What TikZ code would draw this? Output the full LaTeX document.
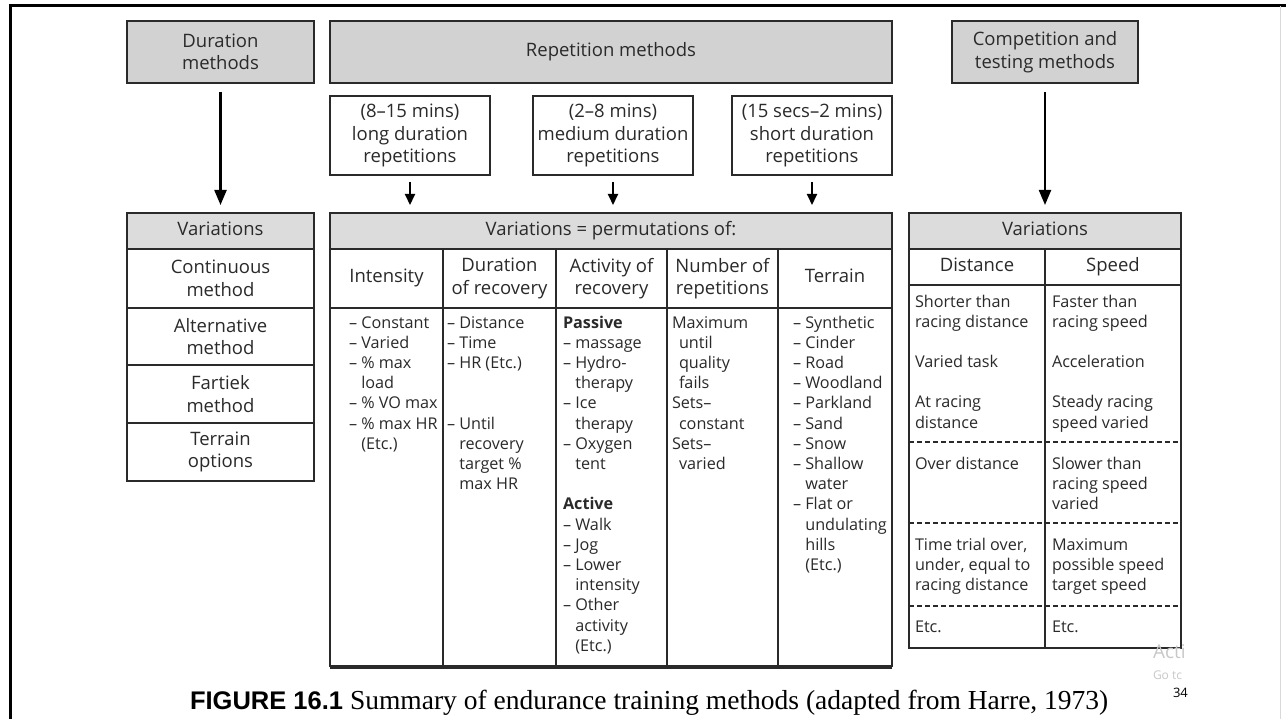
\documentclass[tikz,border=0pt]{standalone}
\usepackage{fontspec}
\setmainfont{Open Sans}
\newfontfamily\capsans{Liberation Sans}
\newfontfamily\capserif{Liberation Serif}
\usetikzlibrary{arrows.meta}
\definecolor{boxgray}{HTML}{D2D2D2}
\definecolor{hdgray}{HTML}{DCDCDC}
\definecolor{ink}{HTML}{2A2A2A}
\definecolor{wm}{HTML}{C8C8C8}
\newcommand\fst{\rule{0pt}{13pt}}
\newcommand\ind{\phantom{– }}
\begin{document}
\begin{tikzpicture}[x=1pt,y=-1pt,
  every node/.style={inner sep=0pt, outer sep=0pt, text=ink},
  hdfont/.style={font=\fontsize{18.5}{22.5}\selectfont},
  bdfont/.style={font=\fontsize{16.2}{20.2}\selectfont},
  box/.style={draw=ink, line width=1.8pt, align=center, hdfont},
  gbox/.style={box, fill=boxgray},
  hbox/.style={box, fill=hdgray},
  wbox/.style={box, fill=white},
  one/.style={text height=13.5pt, text depth=4.5pt},
  body/.style={anchor=north west, align=left, bdfont},
  bigarrow/.style={-{Triangle[length=15pt,width=12pt]}, line width=2.2pt, draw=black},
  smallarrow/.style={-{Triangle[length=11pt,width=10pt]}, line width=2pt, draw=black},
  sep/.style={draw=ink, line width=1.8pt, dash pattern=on 5pt off 3pt},
]
\useasboundingbox (0,0) rectangle (1286,719);
\fill[white] (0,0) rectangle (1286,719);
% frame
\draw[line width=3pt, black] (10,719) -- (10,6) -- (1286,6);
\draw[line width=1pt, black!15] (1280,6) -- (1280,719);

% top boxes
\node[gbox, minimum width=187, minimum height=62] (dur) at (220.5,52) {Duration\\methods};
\node[gbox, one, minimum width=562, minimum height=62] (rep) at (611,52) {Repetition methods};
\node[gbox, minimum width=186, minimum height=62] (comp) at (1045,52) {Competition and\\testing methods};

\node[wbox, minimum width=160, minimum height=79] (long) at (410,135.5) {(8–15 mins)\\long duration\\repetitions};
\node[wbox, minimum width=160, minimum height=79] (med) at (613,135.5) {(2–8 mins)\\medium duration\\repetitions};
\node[wbox, minimum width=160, minimum height=79] (short) at (812,135.5) {(15 secs–2 mins)\\short duration\\repetitions};

% left table
\node[hbox, one, minimum width=187, minimum height=36] (lhead) at (220.5,231) {Variations};
\node[wbox, minimum width=187, minimum height=59] (l1) at (220.5,278.5) {Continuous\\method};
\node[wbox, minimum width=187, minimum height=57] (l2) at (220.5,336.5) {Alternative\\method};
\node[wbox, minimum width=187, minimum height=58] (l3) at (220.5,394) {Fartiek\\method};
\node[wbox, minimum width=187, minimum height=58] (l4) at (220.5,452) {Terrain\\options};

% middle table
\node[hbox, one, minimum width=562, minimum height=36] (mhead) at (611,231) {Variations = permutations of:};
\node[wbox, one, minimum width=113, minimum height=59] (c1) at (386.5,278.5) {Intensity};
\node[wbox, minimum width=113, minimum height=59] (c2) at (499.5,278.5) {Duration\\of recovery};
\node[wbox, minimum width=111, minimum height=59] (c3) at (611.5,278.5) {Activity of\\recovery};
\node[wbox, minimum width=111, minimum height=59] (c4) at (722.5,278.5) {Number of\\repetitions};
\node[wbox, one, minimum width=114, minimum height=59] (c5) at (835,278.5) {Terrain};
\node[wbox, minimum width=113, minimum height=358] (b1) at (386.5,487) {};
\node[wbox, minimum width=113, minimum height=358] (b2) at (499.5,487) {};
\node[wbox, minimum width=111, minimum height=358] (b3) at (611.5,487) {};
\node[wbox, minimum width=111, minimum height=358] (b4) at (722.5,487) {};
\node[wbox, minimum width=114, minimum height=358] (b5) at (835,487) {};
\draw[draw=ink, line width=1.2pt] ([yshift=-2pt]b1.south west) -- ([yshift=-2pt]b5.south east);

\node[body] (t1) at (349,315) {\fst– Constant\\– Varied\\– \% max\\\ind load\\– \% VO max\\– \% max HR\\\ind (Etc.)};
\node[body] (t2) at (447,315) {\fst– Distance\\– Time\\– HR (Etc.)\\~\\~\\– Until\\\ind recovery\\\ind target \%\\\ind max HR};
\node[body] (t3) at (563,315) {\fst\textbf{Passive}\\– massage\\– Hydro-\\\ind therapy\\– Ice\\\ind therapy\\– Oxygen\\\ind tent\\~\\\textbf{Active}\\– Walk\\– Jog\\– Lower\\\ind intensity\\– Other\\\ind activity\\\ind (Etc.)};
\node[body] (t4) at (672,315) {\fst Maximum\\\hspace{7pt}until\\\hspace{7pt}quality\\\hspace{7pt}fails\\Sets–\\\hspace{7pt}constant\\Sets–\\\hspace{7pt}varied};
\node[body] (t5) at (793,315) {\fst– Synthetic\\– Cinder\\– Road\\– Woodland\\– Parkland\\– Sand\\– Snow\\– Shallow\\\ind water\\– Flat or\\\ind undulating\\\ind hills\\\ind (Etc.)};

% right table
\node[hbox, one, minimum width=272, minimum height=36] (rhead) at (1045,231) {Variations};
\node[wbox, one, minimum width=136, minimum height=36] (rdist) at (977,267) {Distance};
\node[wbox, one, minimum width=136, minimum height=36] (rspeed) at (1113,267) {Speed};
\node[wbox, minimum width=136, minimum height=363] (rbd) at (977,466.5) {};
\node[wbox, minimum width=136, minimum height=363] (rbs) at (1113,466.5) {};
\draw[sep] (rbd.west |- 0,442) -- (rbs.east |- 0,442);
\draw[sep] (rbd.west |- 0,523) -- (rbs.east |- 0,523);
\draw[sep] (rbd.west |- 0,606) -- (rbs.east |- 0,606);

\node[body] (d1) at (915,294) {\fst Shorter than\\racing distance\\~\\Varied task\\~\\At racing\\distance};
\node[body] (s1) at (1052,294) {\fst Faster than\\racing speed\\~\\Acceleration\\~\\Steady racing\\speed varied};
\node[body] (d2) at (915,456) {\fst Over distance};
\node[body] (s2) at (1052,456) {\fst Slower than\\racing speed\\varied};
\node[body] (d3) at (915,537) {\fst Time trial over,\\under, equal to\\racing distance};
\node[body] (s3) at (1052,537) {\fst Maximum\\possible speed\\target speed};
\node[body] (d4) at (915,619) {\fst Etc.};
\node[body] (s4) at (1052,619) {\fst Etc.};

% arrows
\draw[bigarrow, shorten <=9pt, shorten >=8pt] (dur.south) -- (lhead.north);
\draw[bigarrow, shorten <=9pt, shorten >=8pt] (comp.south) -- (rhead.north);
\draw[smallarrow, shorten <=7pt, shorten >=8pt] (long.south) -- (long.south |- mhead.north);
\draw[smallarrow, shorten <=7pt, shorten >=8pt] (med.south) -- (med.south |- mhead.north);
\draw[smallarrow, shorten <=7pt, shorten >=8pt] (short.south) -- (short.south |- mhead.north);

% watermark and page number
\node[anchor=base west, text=wm, font=\fontsize{19}{19}\selectfont] (wm1) at (1153,658) {Acti};
\node[anchor=base west, text=wm, font=\fontsize{12}{12}\selectfont] (wm2) at (1153,679) {Go tc};
\node[anchor=base west, text=black, font=\fontsize{13}{13}\selectfont] (pg) at (1173,697) {34};

% caption
\node[anchor=base west, text=black] (cap) at (190,709) {{\capsans\bfseries\fontsize{25.5}{25.5}\selectfont FIGURE 16.1}\hspace{7pt}{\capserif\fontsize{27.5}{27.5}\selectfont Summary of endurance training methods (adapted from Harre, 1973)}};
\end{tikzpicture}
\end{document}
